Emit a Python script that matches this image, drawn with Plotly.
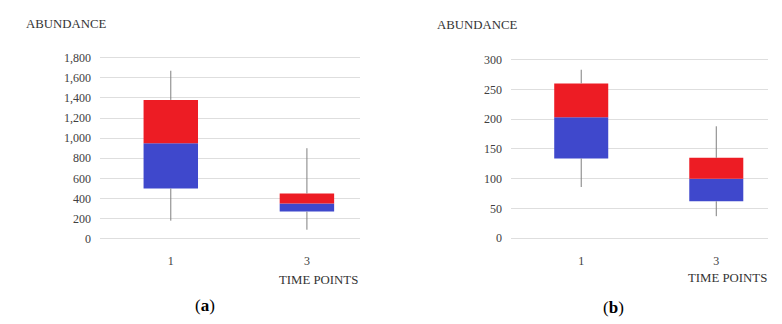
import plotly.graph_objects as go

# Data
categories = ["1", "3"]

a_min = [180, 90]
a_q1 = [500, 270]
a_median = [950, 350]
a_q3 = [1380, 450]
a_max = [1670, 900]

b_min = [86, 37]
b_q1 = [134, 62]
b_median = [203, 100]
b_q3 = [260, 135]
b_max = [283, 188]

y_ticks_a = [0, 200, 400, 600, 800, 1000, 1200, 1400, 1600, 1800]
y_ticks_b = [0, 50, 100, 150, 200, 250, 300]

BLUE = "#3F48CC"
RED = "#ED1C24"
W, H = 782, 324
FONT = "Liberation Serif"

fig = go.Figure()


def add_panel(xa, ya, mn, q1, med, q3, mx):
    fig.add_trace(go.Bar(x=categories, base=q1, y=[m - q for m, q in zip(med, q1)],
                         marker=dict(color=BLUE, line=dict(width=0)), width=0.40,
                         xaxis=xa, yaxis=ya, showlegend=False, hoverinfo="skip"))
    fig.add_trace(go.Bar(x=categories, base=med, y=[t - m for t, m in zip(q3, med)],
                         marker=dict(color=RED, line=dict(width=0)), width=0.40,
                         xaxis=xa, yaxis=ya, showlegend=False, hoverinfo="skip"))
    xs, ys = [], []
    for c, lo, a, b, hi in zip(categories, mn, q1, q3, mx):
        xs += [c, c, None, c, c, None]
        ys += [b, hi, None, a, lo, None]
    fig.add_trace(go.Scatter(x=xs, y=ys, mode="lines", line=dict(color="#7f7f7f", width=1),
                             xaxis=xa, yaxis=ya, showlegend=False, hoverinfo="skip"))


add_panel("x", "y", a_min, a_q1, a_median, a_q3, a_max)
add_panel("x2", "y2", b_min, b_q1, b_median, b_q3, b_max)


def px_x(p):
    return p / W


def py(t):
    # target pixel row -> paper fraction (compensates vertical squeeze seen in render)
    return 1 - ((t - 3.7) / 0.9715) / H


tickfont = dict(family=FONT, size=12, color="#404040")
xcommon = dict(type="category", range=[-0.52, 1.39], showgrid=False, zeroline=False,
               showline=False, ticks="", tickfont=tickfont, ticklabelstandoff=11,
               fixedrange=True)

fig.update_layout(
    width=W, height=H,
    margin=dict(l=0, r=0, t=0, b=0),
    paper_bgcolor="white", plot_bgcolor="white",
    barmode="overlay",
    font=dict(family=FONT, color="#333333"),
    xaxis=dict(domain=[px_x(100), px_x(360)], anchor="y", **xcommon),
    xaxis2=dict(domain=[px_x(511), px_x(768)], anchor="y2",
                **{**xcommon, "range": [-0.52, 1.383]}),
    yaxis=dict(domain=[py(240.3), py(54.3)], anchor="x", range=[-20, 1830],
               tickvals=y_ticks_a, tickformat=",d", showgrid=True, gridcolor="#dedede",
               gridwidth=1, zeroline=False, showline=False, tickfont=tickfont,
               ticklabelstandoff=8),
    yaxis2=dict(domain=[py(240.7), py(56.3)], anchor="x2", range=[-5, 305],
                tickvals=y_ticks_b, showgrid=True, gridcolor="#dedede",
                gridwidth=1, zeroline=False, showline=False, tickfont=tickfont,
                ticklabelstandoff=8),
)

ann = []
ann.append(dict(text="ABUNDANCE", x=px_x(24), y=py(24), xanchor="left", yanchor="middle"))
ann.append(dict(text="TIME POINTS", x=px_x(360), y=py(279.5), xanchor="right", yanchor="middle"))
ann.append(dict(text="ABUNDANCE", x=px_x(435), y=py(25), xanchor="left", yanchor="middle"))
ann.append(dict(text="TIME POINTS", x=px_x(769), y=py(277.5), xanchor="right", yanchor="middle"))
for a in ann:
    a.update(xref="paper", yref="paper", showarrow=False,
             font=dict(family=FONT, size=12.8, color="#333333"))
ann.append(dict(text="(<b>a</b>)", x=px_x(205), y=py(305), xref="paper", yref="paper",
                showarrow=False, xanchor="center", yanchor="middle",
                font=dict(family=FONT, size=17, color="black")))
ann.append(dict(text="(<b>b</b>)", x=px_x(613), y=py(306.5), xref="paper", yref="paper",
                showarrow=False, xanchor="center", yanchor="middle",
                font=dict(family=FONT, size=17, color="black")))
fig.update_layout(annotations=ann)

post = (
    "document.documentElement.style.margin='0';"
    "document.documentElement.style.padding='0';"
    "document.documentElement.style.overflow='hidden';"
    "document.body.style.margin='0';"
    "document.body.style.padding='0';"
    "document.body.style.overflow='hidden';"
    "document.body.style.height='324px';"
    "var ds=document.querySelectorAll('body > div');"
    "for(var i=0;i<ds.length;i++){ds[i].style.margin='0';ds[i].style.padding='0';"
    "ds[i].style.height='324px';ds[i].style.overflow='hidden';}"
)
fig.write_html("out.html", config={"displayModeBar": False, "staticPlot": True},
               post_script=post)
